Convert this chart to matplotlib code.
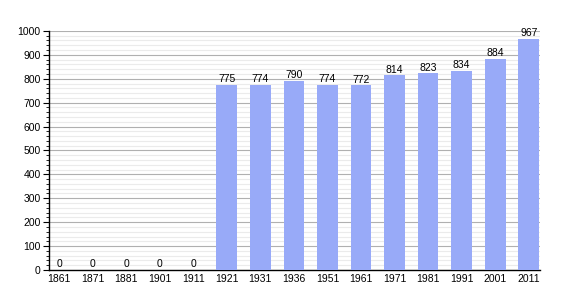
import matplotlib.pyplot as plt
from matplotlib.ticker import MultipleLocator

plt.rcParams['font.family'] = ['Liberation Sans', 'DejaVu Sans']

years = ['1861', '1871', '1881', '1901', '1911', '1921', '1931', '1936',
         '1951', '1961', '1971', '1981', '1991', '2001', '2011']
pop = [0, 0, 0, 0, 0, 775, 774, 790, 774, 772, 814, 823, 834, 884, 967]

fig = plt.figure(figsize=(5.7, 3), dpi=100)
ax = fig.add_axes([0.086, 0.1, 0.861, 0.797])

x = range(len(years))
ax.bar(x, pop, width=0.62, color='#98aaf8', zorder=3)

# valeurs au-dessus des barres
for i, v in zip(x, pop):
    ax.text(i, v + 3, str(v), ha='center', va='bottom', fontsize=7.5, zorder=4)

ax.set_xlim(-0.3, 14.33)
ax.set_ylim(0, 1000)
ax.set_xticks(list(x))
ax.set_xticklabels(years)
ax.yaxis.set_major_locator(MultipleLocator(100))
ax.yaxis.set_minor_locator(MultipleLocator(20))

ax.grid(axis='y', which='major', color='#b0b0b0', linewidth=0.8, zorder=1)
ax.grid(axis='y', which='minor', color='#ebebeb', linewidth=0.8, zorder=1)

ax.spines['top'].set_visible(False)
ax.spines['right'].set_visible(False)
ax.spines['left'].set_linewidth(1)
ax.spines['bottom'].set_linewidth(1)
ax.tick_params(axis='x', length=0, labelsize=7.5, pad=3)
ax.tick_params(axis='y', which='major', length=4, labelsize=7.5, pad=2)
ax.tick_params(axis='y', which='minor', length=2)

fig.savefig('out.png', dpi=100)
